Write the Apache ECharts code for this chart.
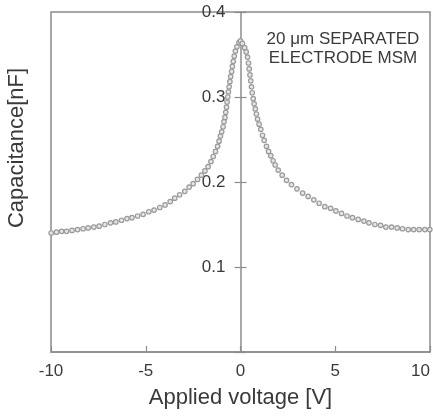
<!DOCTYPE html>
<html>
<head>
<meta charset="utf-8">
<script src="https://cdn.jsdelivr.net/npm/echarts@6/dist/echarts.min.js"></script>
<style>
  html, body { margin: 0; padding: 0; background: #fff; }
  #chart { width: 433px; height: 417px; }
</style>
</head>
<body>
<div id="chart"></div>
<script>
// C-V sweep of the 20 um MSM device (left branch -> peak -> right branch)
const voltage = [
  -9.99, -9.71, -9.44, -9.18, -8.89, -8.60, -8.31, -8.04, -7.74, -7.46,
  -7.16, -6.86, -6.58, -6.28, -5.99, -5.73, -5.43, -5.14, -4.84, -4.56,
  -4.26, -3.98, -3.71, -3.47, -3.21, -2.94, -2.71, -2.50, -2.27, -2.06,
  -1.88, -1.71, -1.56, -1.44, -1.32, -1.21, -1.13, -1.06, -0.99, -0.92,
  -0.87, -0.82, -0.78, -0.74, -0.71, -0.67, -0.64, -0.60, -0.56, -0.52,
  -0.47, -0.43, -0.38, -0.33, -0.27, -0.19, -0.08, 0.00,
  0.10, 0.22, 0.30, 0.37, 0.42, 0.46, 0.50, 0.54, 0.58, 0.62,
  0.67, 0.72, 0.78, 0.84, 0.90, 0.98, 1.07, 1.16, 1.25, 1.37,
  1.48, 1.60, 1.72, 1.83, 1.99, 2.20, 2.43, 2.69, 2.98, 3.28,
  3.57, 3.87, 4.15, 4.45, 4.75, 5.03, 5.33, 5.62, 5.91, 6.21,
  6.51, 6.78, 7.09, 7.39, 7.67, 7.97, 8.27, 8.55, 8.85, 9.14,
  9.43, 9.73, 9.99
]
const capacitance = [
  0.140, 0.141, 0.142, 0.142, 0.143, 0.144, 0.145, 0.146, 0.147, 0.148,
  0.150, 0.152, 0.153, 0.155, 0.157, 0.158, 0.160, 0.162, 0.165, 0.167,
  0.170, 0.173, 0.177, 0.181, 0.185, 0.189, 0.194, 0.198, 0.203, 0.208,
  0.213, 0.218, 0.224, 0.230, 0.236, 0.242, 0.248, 0.254, 0.259, 0.265,
  0.271, 0.276, 0.282, 0.288, 0.294, 0.300, 0.306, 0.312, 0.318, 0.324,
  0.330, 0.336, 0.342, 0.348, 0.354, 0.359, 0.364, 0.366,
  0.363, 0.358, 0.353, 0.347, 0.340, 0.333, 0.326, 0.319, 0.312, 0.305,
  0.298, 0.292, 0.286, 0.280, 0.274, 0.268, 0.262, 0.255, 0.249, 0.242,
  0.236, 0.231, 0.225, 0.220, 0.214, 0.208, 0.202, 0.197, 0.192, 0.187,
  0.183, 0.179, 0.175, 0.171, 0.169, 0.166, 0.163, 0.160, 0.158, 0.156,
  0.154, 0.152, 0.150, 0.149, 0.147, 0.147, 0.146, 0.145, 0.144, 0.144,
  0.144, 0.144, 0.144
]
const xTicks = { min: -10, max: 10, step: 5 }
const yTicks = { min: 0, max: 0.4, step: 0.1 }
const xName = 'Applied voltage [V]'
const yName = 'Capacitance[nF]'
const note = '20 μm SEPARATED\nELECTRODE MSM'

const font = '"Liberation Sans", Arial, Helvetica, sans-serif'
const textColor = '#3a3a3a'
const lineColor = '#8c8c8c'

const gridLeft = 51
const gridRight = 3
const gridWidth = 433 - gridLeft - gridRight
// y axis sits on V = 0, i.e. halfway across the plot box
const yAxisShift = -gridWidth * (0 - xTicks.min) / (xTicks.max - xTicks.min)

const chart = echarts.init(document.getElementById('chart'))

const option = {
  backgroundColor: '#fff',
  animation: false,
  grid: {
    left: gridLeft, right: gridRight, top: 12, bottom: 65,
    outerBoundsMode: 'none',
    containLabel: false,
    show: true,
    borderColor: lineColor,
    borderWidth: 1.5
  },
  xAxis: {
    type: 'value',
    min: xTicks.min,
    max: xTicks.max,
    interval: xTicks.step,
    name: xName,
    nameLocation: 'middle',
    nameGap: 35,
    nameTextStyle: { color: textColor, fontSize: 22, fontFamily: font },
    axisLine: { onZero: false, lineStyle: { color: lineColor, width: 1.5 } },
    axisTick: { inside: true, length: 6, lineStyle: { color: lineColor, width: 1.2 } },
    axisLabel: {
      color: textColor, fontSize: 17, fontFamily: font, margin: 11,
      alignMaxLabel: 'right'
    },
    splitLine: { show: false }
  },
  yAxis: [
    {
      type: 'value',
      position: 'left',
      offset: yAxisShift,
      min: yTicks.min,
      max: yTicks.max,
      interval: yTicks.step,
      axisLine: { show: true, onZero: false, lineStyle: { color: lineColor, width: 1.5 } },
      axisTick: { show: true, length: 6, lineStyle: { color: lineColor, width: 1.2 } },
      axisLabel: {
        color: textColor, fontSize: 17, fontFamily: font, margin: 15,
        formatter: v => (v === 0 ? '' : v.toFixed(1))
      },
      splitLine: { show: false }
    },
    {
      type: 'value',
      position: 'left',
      offset: yAxisShift,
      min: yTicks.min,
      max: yTicks.max,
      interval: yTicks.step,
      axisLine: { show: false, onZero: false },
      axisTick: { show: true, inside: true, length: 6, lineStyle: { color: lineColor, width: 1.2 } },
      axisLabel: { show: false },
      splitLine: { show: false }
    }
  ],
  graphic: [
    {
      type: 'text',
      x: 17,
      y: 148,
      rotation: Math.PI / 2,
      style: {
        text: yName,
        font: '22px ' + font,
        fill: textColor,
        align: 'center',
        verticalAlign: 'middle'
      }
    },
    {
      type: 'text',
      x: 343,
      y: 49,
      style: {
        text: note,
        font: '17px ' + font,
        lineHeight: 19.5,
        fill: textColor,
        align: 'center',
        verticalAlign: 'middle'
      }
    }
  ],
  series: [
    {
      type: 'scatter',
      data: voltage.map((v, i) => [v, capacitance[i]]),
      symbol: 'circle',
      symbolSize: 4.5,
      itemStyle: { color: '#e6e6e6', borderColor: '#9a9a9a', borderWidth: 1.2, opacity: 1 }
    }
  ]
}

chart.setOption(option)
</script>
</body>
</html>
